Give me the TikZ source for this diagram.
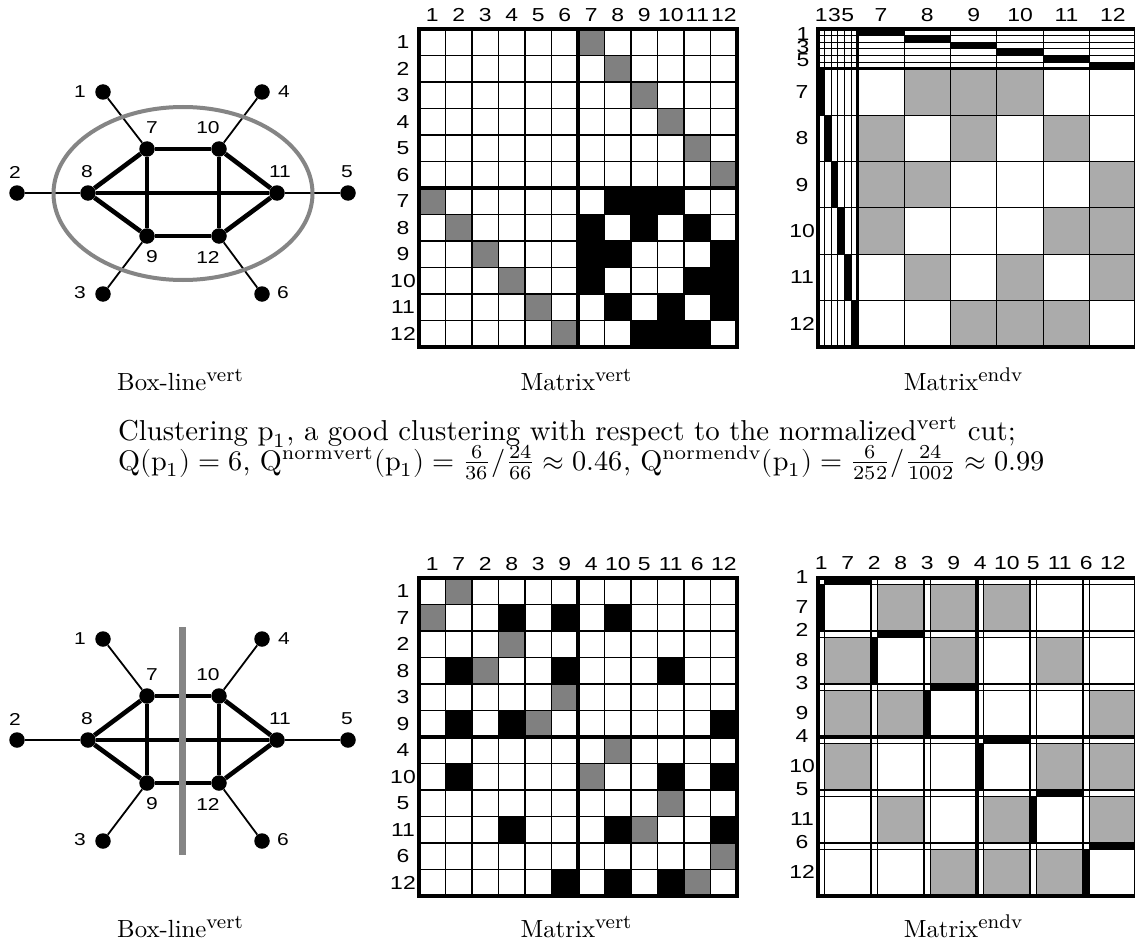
\documentclass[tikz,border=0pt]{standalone}
\usepackage{unicode-math}
\newfontfamily\lsans[FakeStretch=1.22]{Liberation Sans}
\definecolor{vgray}{HTML}{808080}
\definecolor{egray}{HTML}{ABABAB}
\definecolor{lgray}{HTML}{858585}
\newcommand\capsup[1]{\raisebox{3.4pt}{\fontsize{8}{8}\selectfont #1}}
\newcommand\cellat[3]{%
  \pgfmathsetmacro\xa{\MX+\MU*\MB[#3-1]}%
  \pgfmathsetmacro\xb{\MX+\MU*\MB[#3]}%
  \pgfmathsetmacro\ya{\MY+\MU*\MB[#2-1]}%
  \pgfmathsetmacro\yb{\MY+\MU*\MB[#2]}%
  \fill[#1] (\xa,\ya) rectangle (\xb,\yb);}
\newcommand\matgrid{%
  \pgfmathsetmacro\ML{\MU*\MB[12]}%
  \foreach \k in {0,...,12}{%
    \pgfmathsetmacro\pp{\MU*\MB[\k]}%
    \draw[gridl] (\MX+\pp,\MY) -- (\MX+\pp,\MY+\ML);
    \draw[gridl] (\MX,\MY+\pp) -- (\MX+\ML,\MY+\pp);}}
\newcommand\drawgraph{%
  \node[vtx] (v1) at (103,92) {};
  \node[vtx] (v4) at (262,92) {};
  \node[vtx] (v7) at (147,149) {};
  \node[vtx] (v10) at (219,149) {};
  \node[vtx] (v2) at (17,193) {};
  \node[vtx] (v8) at (88,193) {};
  \node[vtx] (v11) at (277,193) {};
  \node[vtx] (v5) at (348,193) {};
  \node[vtx] (v9) at (147,236) {};
  \node[vtx] (v12) at (219,236) {};
  \node[vtx] (v3) at (103,294) {};
  \node[vtx] (v6) at (262,294) {};
  \foreach \a/\b in {1/7,2/8,3/9,4/10,5/11,6/12} \draw[pend] (v\a) -- (v\b);
  \foreach \a/\b in {7/10,7/8,7/9,8/9,8/11,10/11,10/12,9/12,11/12} \draw[core] (v\a) -- (v\b);
  \node[glab] (l1) at (80,92) {1};
  \node[glab] (l4) at (284,92) {4};
  \node[glab] (l7) at (152,128) {7};
  \node[glab] (l10) at (208,128) {10};
  \node[glab] (l2) at (15,172) {2};
  \node[glab] (l8) at (87,172) {8};
  \node[glab] (l11) at (280,172) {11};
  \node[glab] (l5) at (347,172) {5};
  \node[glab] (l9) at (152,257) {9};
  \node[glab] (l12) at (208,257) {12};
  \node[glab] (l3) at (80,293) {3};
  \node[glab] (l6) at (283,293) {6};}
\begin{document}
\begin{tikzpicture}[x=1pt,y=-1pt,
  vtx/.style={circle,fill=black,inner sep=0pt,minimum size=15.5pt},
  glab/.style={font=\lsans\fontsize{17.2}{18}\selectfont,inner sep=0pt},
  mlab/.style={font=\lsans\fontsize{18.8}{19}\selectfont,inner sep=0pt},
  pend/.style={line width=1.8pt},
  core/.style={line width=4.6pt},
  gridl/.style={line width=1.1pt},
  mframe/.style={line width=4pt},
  msep/.style={line width=3.2pt},
  captxt/.style={inner sep=0pt,anchor=base},
]
\useasboundingbox (0,0) rectangle (1135,947);
\fill[white] (0,0) rectangle (1135,947);

% ---------- top graph ----------
\begin{scope}[name prefix=t-]
  \drawgraph
  \draw[lgray,line width=4pt] (183,193.5) ellipse [x radius=129.5,y radius=86.5];
\end{scope}
% ---------- bottom graph ----------
\begin{scope}[name prefix=b-,yshift=-547pt]
  \drawgraph
  \draw[lgray,line width=7pt] (182,627-547) -- (182,855-547);
\end{scope}

% ---------- top Matrix vert ----------
\def\MX{419}\def\MY{29}\def\MU{26.5}\def\MB{{0,1,2,3,4,5,6,7,8,9,10,11,12}}
\foreach \a/\b in {1/7,2/8,3/9,4/10,5/11,6/12} {\cellat{vgray}{\a}{\b}\cellat{vgray}{\b}{\a}}
\foreach \a/\b in {7/8,7/9,7/10,8/9,8/11,9/12,10/11,10/12,11/12} {\cellat{black}{\a}{\b}\cellat{black}{\b}{\a}}
\matgrid
\draw[msep] (578,29) -- (578,347);
\draw[msep] (419,188) -- (737,188);
\draw[mframe] (419,29) rectangle (737,347);
\foreach \j in {1,...,12} {
  \node[mlab] (tvc\j) at ({419+26.5*(\j-0.5)},15) {\j};
  \node[mlab] (tvr\j) at (403,{29+26.5*(\j-0.5)}) {\j};}

% ---------- bottom Matrix vert ----------
\def\MX{419}\def\MY{578}\def\MU{26.5}\def\MB{{0,1,2,3,4,5,6,7,8,9,10,11,12}}
\foreach \a/\b in {1/2,3/4,5/6,7/8,9/10,11/12} {\cellat{vgray}{\a}{\b}\cellat{vgray}{\b}{\a}}
\foreach \a/\b in {2/4,2/6,2/8,4/6,4/10,6/12,8/10,8/12,10/12} {\cellat{black}{\a}{\b}\cellat{black}{\b}{\a}}
\matgrid
\draw[msep] (578,578) -- (578,896);
\draw[msep] (419,737) -- (737,737);
\draw[mframe] (419,578) rectangle (737,896);
\foreach \v [count=\k] in {1,7,2,8,3,9,4,10,5,11,6,12} {
  \node[mlab] (bvc\k) at ({419+26.5*(\k-0.5)},564) {\v};
  \node[mlab] (bvr\k) at (403,{578+26.5*(\k-0.5)}) {\v};}

% ---------- top Matrix endv ----------
\def\MX{818}\def\MY{29}\def\MU{6.625}\def\MB{{0,1,2,3,4,5,6,13,20,27,34,41,48}}
\foreach \a/\b in {7/8,7/9,7/10,8/9,8/11,9/12,10/11,10/12,11/12} {\cellat{egray}{\a}{\b}\cellat{egray}{\b}{\a}}
\matgrid
\foreach \a/\b in {1/7,2/8,3/9,4/10,5/11,6/12} {\cellat{black}{\a}{\b}\cellat{black}{\b}{\a}}
\draw[msep] (857.75,29) -- (857.75,347);
\draw[msep] (818,68.75) -- (1136,68.75);
\draw[mframe] (818,29) rectangle (1136,347);
\foreach \k in {1,3,5} {
  \node[mlab] (tec\k) at ({818+6.625*(\k-0.5)},15) {\k};
  \node[mlab] (ter\k) at (803,{29+6.625*(\k-0.5)+1.5}) {\k};}
\foreach \v [count=\m] in {7,...,12} {
  \node[mlab] (tec\v) at ({818+6.625*(2.5+7*\m)},15) {\v};
  \node[mlab] (ter\v) at (802,{29+6.625*(2.5+7*\m)}) {\v};}

% ---------- bottom Matrix endv ----------
\def\MX{818}\def\MY{578}\def\MU{6.625}\def\MB{{0,1,8,9,16,17,24,25,32,33,40,41,48}}
\foreach \a/\b in {2/4,2/6,2/8,4/6,4/10,6/12,8/10,8/12,10/12} {\cellat{egray}{\a}{\b}\cellat{egray}{\b}{\a}}
\matgrid
\foreach \a/\b in {1/2,3/4,5/6,7/8,9/10,11/12} {\cellat{black}{\a}{\b}\cellat{black}{\b}{\a}}
\draw[msep] (977,578) -- (977,896);
\draw[msep] (818,737) -- (1136,737);
\draw[mframe] (818,578) rectangle (1136,896);
\foreach \v/\o [count=\k] in {1/-4.5,7/-1,2/-4.5,8/-1,3/-4.5,9/-1,4/-4.5,10/-1,5/-4.5,11/-1,6/-4.5,12/-1} {
  \node[mlab] (bec\k) at ({818+6.625*(4*\k-3.5)},563) {\v};
  \node[mlab] (ber\k) at (802,{578+6.625*(4*\k-3.5)+\o}) {\v};}

% ---------- captions ----------
\node[captxt] (c1) at (180,390) {\scalebox{2.48}{Box-line\capsup{vert}}};
\node[captxt] (c2) at (576,390) {\scalebox{2.48}{Matrix\capsup{vert}}};
\node[captxt] (c3) at (963,390) {\scalebox{2.48}{Matrix\capsup{endv}}};
\node[captxt] (c4) at (567,440) {\scalebox{2.88}{Clustering $\mathrm{p}_1$, a good clustering with respect to the normalized$^{\mathrm{vert}}$ cut;}};
\node[captxt,anchor=base west] (c5) at (118,470) {\scalebox{2.83}{$\mathrm{Q}(\mathrm{p}_1)=6$, $\mathrm{Q}^{\mathrm{normvert}}(\mathrm{p}_1)=\frac{6}{36}/\frac{24}{66}\approx 0.46$, $\mathrm{Q}^{\mathrm{normendv}}(\mathrm{p}_1)=\frac{6}{252}/\frac{24}{1002}\approx 0.99$}};
\node[captxt] (c6) at (180,937) {\scalebox{2.48}{Box-line\capsup{vert}}};
\node[captxt] (c7) at (576,937) {\scalebox{2.48}{Matrix\capsup{vert}}};
\node[captxt] (c8) at (963,937) {\scalebox{2.48}{Matrix\capsup{endv}}};
\end{tikzpicture}
\end{document}
